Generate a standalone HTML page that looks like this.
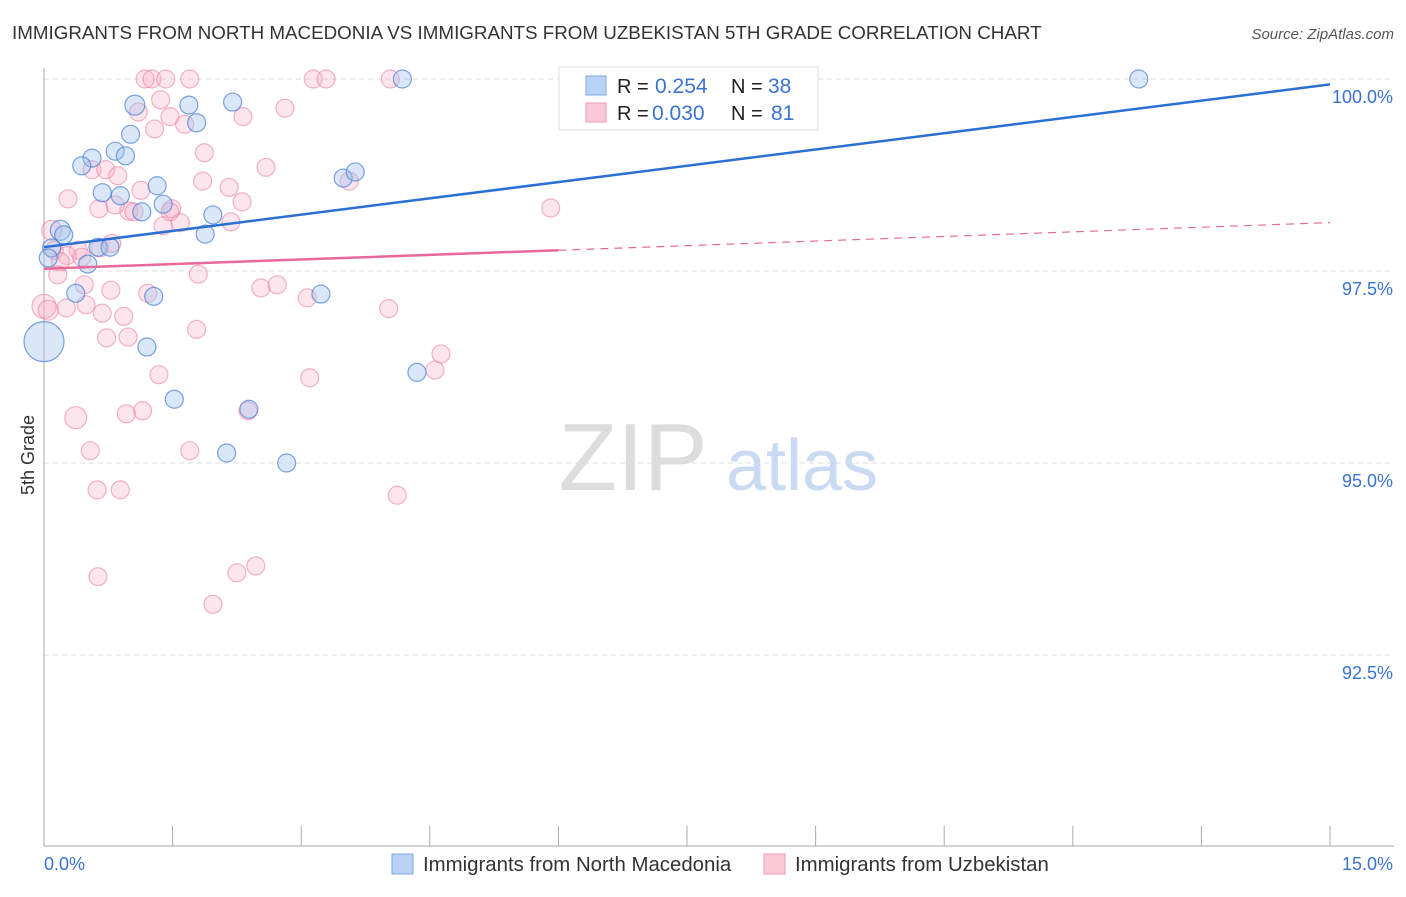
<!DOCTYPE html>
<html><head><meta charset="utf-8"><style>
body{margin:0;background:#fff;font-family:"Liberation Sans",sans-serif;}
svg text{font-family:"Liberation Sans",sans-serif;}
</style></head><body>
<svg id="chart" width="1406" height="892" xmlns="http://www.w3.org/2000/svg">
<text x="12" y="39" font-size="18.8" fill="#333">IMMIGRANTS FROM NORTH MACEDONIA VS IMMIGRANTS FROM UZBEKISTAN 5TH GRADE CORRELATION CHART</text>
<text x="1394" y="39" font-size="15" fill="#555" text-anchor="end" font-style="italic">Source: ZipAtlas.com</text>
<g>
<text x="633" y="490" font-size="96" fill="#ddd" text-anchor="middle" font-family="Liberation Serif">ZIP</text>
<text x="802" y="490" font-size="72" fill="#c9daf2" text-anchor="middle">atlas</text>
</g>
<g id="grid"></g><g id="axes"></g><g id="pts"></g><g id="lines"></g>
<text transform="translate(34,455) rotate(-90)" font-size="18" fill="#333" text-anchor="middle">5th Grade</text>
<g>
<rect x="559" y="67" width="259" height="63" fill="#fff" stroke="#ddd"/>
<rect x="586" y="76" width="20" height="19" fill="#b9d3f5" stroke="#7fa8e0"/>
<rect x="586" y="103" width="20" height="19" fill="#fcc9d6" stroke="#ef9ab2"/>
<text x="617" y="93" font-size="20" fill="#222">R =</text>
<text x="655" y="93" font-size="21" fill="#3b73d1">0.254</text>
<text x="731" y="93" font-size="20" fill="#222">N =</text>
<text x="768" y="93" font-size="21" fill="#3b73d1">38</text>
<text x="617" y="120" font-size="20" fill="#222">R =</text>
<text x="652" y="120" font-size="21" fill="#3b73d1">0.030</text>
<text x="731" y="120" font-size="20" fill="#222">N =</text>
<text x="771" y="120" font-size="21" fill="#3b73d1">81</text>
</g>
<g>
<rect x="392" y="854" width="21" height="20" fill="#b9d3f5" stroke="#7fa8e0"/>
<text x="423" y="871" font-size="20.4" fill="#333">Immigrants from North Macedonia</text>
<rect x="764" y="854" width="21" height="20" fill="#fcc9d6" stroke="#ef9ab2"/>
<text x="795" y="871" font-size="20.4" fill="#333">Immigrants from Uzbekistan</text>
</g>
</svg>
<script>
const xTickVals=[0,1.5,3,4.5,6,7.5,9,10.5,12,13.5,15];
const yTickVals=[100,97.5,95,92.5];
const yTickLabels=["100.0%","97.5%","95.0%","92.5%"];
const blueX=[8.08,12.77,4.18,1.06,1.69,2.20,1.78,1.01,0.83,0.95,0.56,0.44,0.68,0.89,1.32,1.39,1.14,1.97,1.88,0.19,0.23,0.63,0.77,0.51,0.09,0.37,1.28,3.23,3.49,3.63,1.20,0.0,1.52,2.39,2.13,2.83,4.35,0.05];
const blueY=[100,100,100,99.66,99.66,99.70,99.43,99.28,99.06,99.00,98.97,98.87,98.52,98.48,98.61,98.37,98.27,98.23,97.98,98.03,97.97,97.81,97.81,97.59,97.80,97.21,97.17,97.20,98.71,98.79,96.51,96.58,95.83,95.70,95.13,95.00,96.18,97.67];
const blueR=[10,9,9,10,9,9,9,9,9,9,9,9,9,9,9,9,9,9,9,10,9,9,9,9,9,9,9,9,9,9,9,20,9,9,9,9,9,9];
const pinkX=[1.18,1.26,1.42,1.70,3.14,3.29,4.04,1.10,1.36,1.47,1.64,1.29,2.32,2.81,1.87,2.59,0.56,0.72,0.86,1.85,2.16,1.13,2.31,0.28,0.64,0.99,1.05,0.83,1.49,1.47,1.59,1.39,2.18,5.91,3.56,0.09,0.12,0.40,0.27,0.44,0.65,0.79,0.19,1.80,0.16,0.47,0.78,1.21,2.53,2.72,3.07,4.02,0.68,0.93,0.49,0.26,0,0.05,0.73,0.98,1.78,1.34,3.10,4.63,4.56,0.37,1.15,0.96,2.38,0.54,1.70,0.62,0.89,4.12,0.63,2.25,2.47,1.97];
const pinkY=[100,100,100,100,100,100,100,99.57,99.73,99.51,99.41,99.35,99.51,99.62,99.04,98.85,98.82,98.82,98.74,98.67,98.59,98.55,98.40,98.44,98.31,98.28,98.27,98.36,98.31,98.27,98.13,98.09,98.14,98.32,98.67,98.03,97.77,97.77,97.70,97.68,97.80,97.86,97.62,97.46,97.45,97.32,97.25,97.21,97.28,97.32,97.15,97.01,96.95,96.91,97.06,97.02,97.04,96.99,96.63,96.64,96.74,96.15,96.11,96.42,96.21,95.59,95.68,95.64,95.68,95.16,95.16,94.65,94.65,94.58,93.52,93.57,93.66,93.16];
const pinkR=[9,9,9,9,9,9,9,9,9,9,9,9,9,9,9,9,9,9,9,9,9,9,9,9,9,9,9,9,9,9,9,9,9,9,9,10,9,9,9,9,9,9,9,9,9,9,9,9,9,9,9,9,9,9,9,9,12,10,9,9,9,9,9,9,9,11,9,9,9,9,9,9,9,9,9,9,9,9];
const blueLine=[97.81,99.93];
const pinkLine=[97.53,97.77,98.13];
const X0=44,X1=1330,Y100=79,PPY=76.8;
const sx=v=>X0+(X1-X0)*v/15;
const sy=v=>Y100+(100-v)*PPY;
const NS="http://www.w3.org/2000/svg";
function mk(p,t,a){const e=document.createElementNS(NS,t);for(const k in a)e.setAttribute(k,a[k]);p.appendChild(e);return e;}
const grid=document.getElementById('grid'),axes=document.getElementById('axes'),pts=document.getElementById('pts'),lines=document.getElementById('lines');
yTickVals.forEach((v,i)=>{
 const g=mk(grid,'line',{x1:X0,x2:1394,y1:sy(v),y2:sy(v),stroke:'#ddd','stroke-dasharray':'5,4'});
 
 
 const t=mk(axes,'text',{x:1393,y:sy(v)+24,'font-size':18,fill:'#3b73d1','text-anchor':'end'});
 t.textContent=yTickLabels[i];
 
 
});
const ax=mk(axes,'line',{x1:X0,x2:X0,y1:68,y2:846,stroke:'#aaa'});


const bx=mk(axes,'line',{x1:X0,x2:1394,y1:846,y2:846,stroke:'#aaa'});


xTickVals.forEach(v=>{
 const t=mk(axes,'line',{x1:sx(v),x2:sx(v),y1:826,y2:846,stroke:'#aaa'});
 
 
});
const xl=mk(axes,'text',{x:44,y:870,'font-size':18,fill:'#3b73d1'});xl.textContent='0.0%';


const xr=mk(axes,'text',{x:1393,y:870,'font-size':18,fill:'#3b73d1','text-anchor':'end'});xr.textContent='15.0%';


pinkX.forEach((x,i)=>{
 const c=mk(pts,'circle',{cx:sx(x),cy:sy(pinkY[i]),r:pinkR[i],fill:'rgba(248,170,195,0.3)',stroke:'rgba(232,120,155,0.55)','stroke-width':1.2});
 
 
});
blueX.forEach((x,i)=>{
 const c=mk(pts,'circle',{cx:sx(x),cy:sy(blueY[i]),r:blueR[i],fill:'rgba(160,195,240,0.4)',stroke:'rgba(70,125,210,0.7)','stroke-width':1.2});
 
 
});
const bl=mk(lines,'line',{x1:sx(0),y1:sy(blueLine[0]),x2:sx(15),y2:sy(blueLine[1]),stroke:'#2a6fd6','stroke-width':2.5});


const pl=mk(lines,'line',{x1:sx(0),y1:sy(pinkLine[0]),x2:sx(6),y2:sy(pinkLine[1]),stroke:'#e8689a','stroke-width':2.5});


const pd=mk(lines,'line',{x1:sx(6),y1:sy(pinkLine[1]),x2:sx(15),y2:sy(pinkLine[2]),stroke:'#e8689a','stroke-width':1.2,'stroke-dasharray':'8,6'});


</script>
</body></html>
